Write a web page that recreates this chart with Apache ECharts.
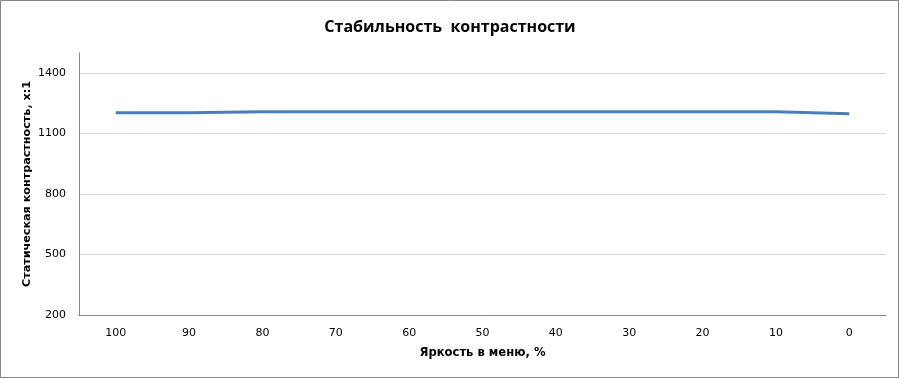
<!DOCTYPE html>
<html><head><meta charset="utf-8">
<script src="https://cdn.jsdelivr.net/npm/echarts@6/dist/echarts.min.js"></script>
<style>html,body{margin:0;padding:0;background:#fff}#c{width:900px;height:379px}</style>
</head><body><div id="c"></div>
<script>
const categories = ['100','90','80','70','60','50','40','30','20','10','0'];
const contrast = [1204, 1204, 1209, 1209, 1209, 1209, 1209, 1209, 1209, 1209, 1199];
const titleText = 'Стабильность  контрастности';
const xName = 'Яркость в меню, %';
const yName = 'Статическая контрастность, x:1';

const chart = echarts.init(document.getElementById('c'), null, {renderer: 'canvas'});
chart.setOption({
  animation: false,
  backgroundColor: '#fff',
  title: {
    text: titleText, left: 'center', top: 14,
    textStyle: {fontFamily: 'Open Sans', fontWeight: 'bold', fontSize: 16, color: '#000'}
  },
  graphic: [{type: 'rect', shape: {x: 0.5, y: 0.5, width: 898, height: 377},
    style: {fill: 'none', stroke: '#868686', lineWidth: 1}, silent: true}],
  grid: {left: 79, right: 14, top: 53, bottom: 64},
  xAxis: {
    type: 'category', data: categories, boundaryGap: true,
    name: xName, nameLocation: 'middle', nameGap: 32,
    nameTextStyle: {fontFamily: 'DejaVu Sans', fontWeight: 'bold', fontSize: 11.6, color: '#000'},
    axisLine: {lineStyle: {color: '#868686', width: 1}},
    axisTick: {show: false},
    axisLabel: {fontFamily: 'DejaVu Sans', fontSize: 11, color: '#000', margin: 13}
  },
  yAxis: {
    type: 'value', min: 200, max: 1500, interval: 300,
    name: yName, nameLocation: 'middle', nameGap: 46, nameMoveOverlap: false,
    nameTextStyle: {fontFamily: 'DejaVu Sans', fontWeight: 'bold', fontSize: 11.2, color: '#000'},
    axisLine: {show: true, lineStyle: {color: '#868686', width: 1}},
    axisTick: {show: false},
    axisLabel: {fontFamily: 'DejaVu Sans', fontSize: 11, color: '#000', margin: 13, showMaxLabel: false,
      formatter: function (v) { return String(v); }},
    splitLine: {show: true, showMaxLine: false, lineStyle: {color: '#d9d9d9', width: 1}}
  },
  series: [{
    type: 'line', data: contrast, showSymbol: false, symbol: 'none',
    lineStyle: {color: '#4a7ebb', width: 3}
  }]
});
</script></body></html>
